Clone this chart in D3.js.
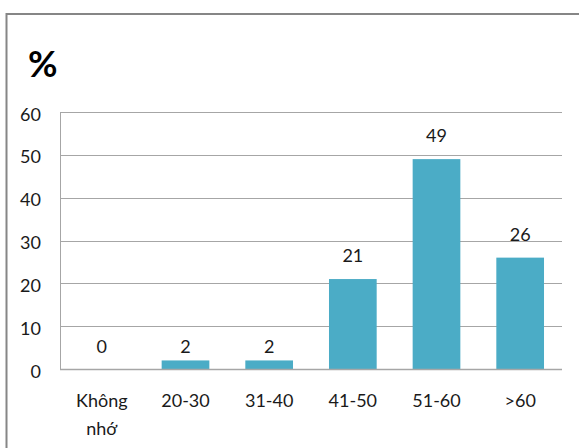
<!DOCTYPE html>
<html>
<head>
<meta charset="utf-8">
<script src="https://cdn.jsdelivr.net/npm/d3@7"></script>
<style>
  html, body { margin: 0; padding: 0; background: #fff; }
  svg { display: block; font-family: Lato, "Open Sans", sans-serif; }
</style>
</head>
<body>
<svg id="chart" width="579" height="448"></svg>
<script>
// Age groups (two-line labels split on "\n") and their share in percent
const categories = ["Không\nnhớ", "20-30", "31-40", "41-50", "51-60", ">60"];
const values = [0, 2, 2, 21, 49, 26];
const yTicks = [0, 10, 20, 30, 40, 50, 60];
const unitLabel = "%";

const svg = d3.select("#chart");
const margin = { left: 60, right: 17, top: 112, bottom: 79 };
const W = 579, H = 448;

// Outer frame (its right and bottom edges run past the canvas)
svg.append("rect")
  .attr("x", 6.5).attr("y", 14)
  .attr("width", 600).attr("height", 500)
  .attr("fill", "#fff")
  .attr("stroke", "#868686")
  .attr("stroke-width", 2);

const x = d3.scaleBand()
  .domain(categories)
  .range([margin.left, W - margin.right])
  .paddingInner(0.43)
  .paddingOuter(0.215);

const y = d3.scaleLinear()
  .domain([0, 60])
  .range([H - margin.bottom, margin.top]);

// Gridlines
svg.append("g")
  .selectAll("line")
  .data(yTicks.filter(d => d > 0))
  .join("line")
  .attr("x1", margin.left).attr("x2", W - margin.right)
  .attr("y1", d => Math.round(y(d)) + 0.5).attr("y2", d => Math.round(y(d)) + 0.5)
  .attr("stroke", "#a6a6a6").attr("stroke-width", 1);

// Y axis
const yAxis = svg.append("g")
  .attr("transform", `translate(${margin.left},0)`)
  .call(d3.axisLeft(y).tickValues(yTicks).tickSize(0).tickPadding(19));
yAxis.select(".domain").attr("stroke", "#a6a6a6").attr("d", `M0.5,${margin.top}V${y(0)}`);
yAxis.selectAll("text")
  .attr("font-family", "Lato, sans-serif")
  .attr("font-size", 18)
  .attr("fill", "#1a1a1a")
  .attr("dy", "0.45em");

// Bars
svg.append("g")
  .selectAll("rect")
  .data(values)
  .join("rect")
  .attr("x", (d, i) => x(categories[i]))
  .attr("width", x.bandwidth())
  .attr("y", d => y(d))
  .attr("height", d => y(0) - y(d))
  .attr("fill", "#4bacc6");

// Baseline
svg.append("line")
  .attr("x1", margin.left).attr("x2", W - margin.right)
  .attr("y1", Math.round(y(0)) + 0.5).attr("y2", Math.round(y(0)) + 0.5)
  .attr("stroke", "#a6a6a6").attr("stroke-width", 1.5);

// Value labels above bars; small values sit on a common row
svg.append("g")
  .selectAll("text")
  .data(values)
  .join("text")
  .attr("x", (d, i) => x(categories[i]) + x.bandwidth() / 2)
  .attr("y", d => d < 5 ? y(0) - 16 : y(d) - 17)
  .attr("text-anchor", "middle")
  .attr("font-size", 18)
  .attr("fill", "#1a1a1a")
  .text(d => d);

// Category labels
const xl = svg.append("g")
  .selectAll("text")
  .data(categories)
  .join("text")
  .attr("x", d => x(d) + x.bandwidth() / 2)
  .attr("y", 407)
  .attr("text-anchor", "middle")
  .attr("font-size", 18)
  .attr("fill", "#1a1a1a");
xl.each(function(d) {
  const t = d3.select(this);
  d.split("\n").forEach((line, k) => {
    t.append("tspan")
      .attr("x", t.attr("x"))
      .attr("dy", k === 0 ? 0 : 28)
      .text(line);
  });
});

// Unit label
svg.append("text")
  .attr("x", 28).attr("y", 77)
  .attr("font-size", 36)
  .attr("font-weight", "bold")
  .attr("fill", "#000")
  .text(unitLabel);
</script>
</body>
</html>
